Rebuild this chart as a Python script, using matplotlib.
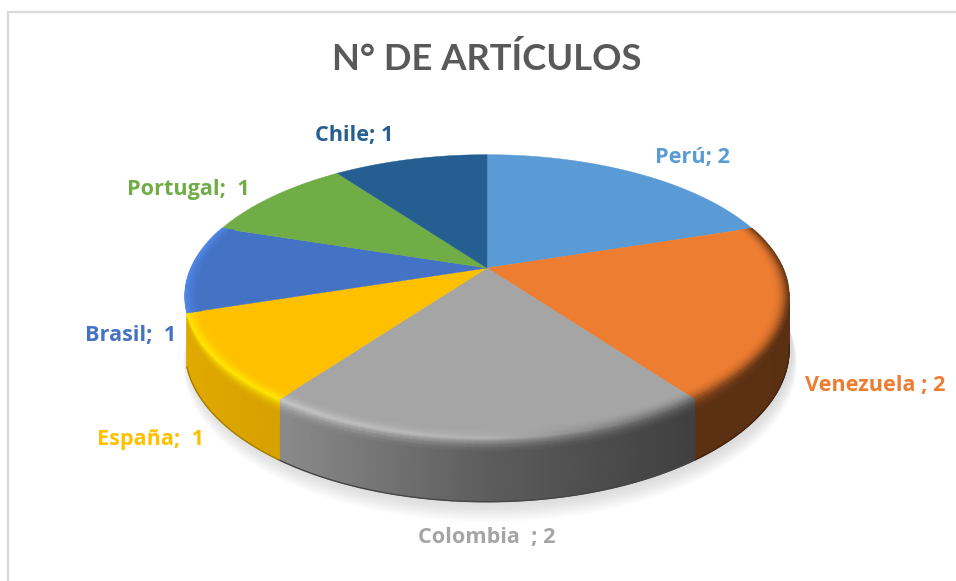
import numpy as np
import matplotlib
matplotlib.use('Agg')
import matplotlib.pyplot as plt

# data
paises = ['Perú', 'Venezuela', 'Colombia', 'España', 'Brasil', 'Portugal', 'Chile']
articulos = [2, 2, 2, 1, 1, 1, 1]
etiquetas = ['Perú; 2', 'Venezuela ; 2', 'Colombia  ; 2', 'España;  1', 'Brasil;  1', 'Portugal;  1', 'Chile; 1']
colores = ['#5b9bd5', '#ed7d31', '#a5a5a5', '#ffc000', '#4472c4', '#70ad47', '#255e91']

# pie geometry in picture pixels
cx, cy = 487, 268
rad_x, rad_y, persp, alto = 296, 136, 0.2, 51

# label positions (left edge, middle)
pos_etiq = [(655, 158), (805, 385), (418, 537), (97, 439), (85, 335), (127, 190), (315, 136)]

# light on the side of the pie, by picture x
luz_x = [187, 282, 490, 690, 790]
luz_lado = [0.88, 0.84, 0.56, 0.39, 0.38]
luz_borde = [1.2, 1.2, 1.08, 0.62, 0.42]


def proy(theta, r=1.0, z=0.0):
    # theta clockwise from the back of the pie, z goes down
    x = r * np.sin(theta)
    y = r * np.cos(theta)
    d = 1 + persp * y
    return cx + rad_x * x / d, cy - rad_y * y / d + alto * z / d


def factor(col, f):
    # col rgb, f array of brightness factors
    c = np.array(matplotlib.colors.to_rgb(col))
    return np.clip(c[None, :] * f[:, None], 0, 1)


fig = plt.figure(figsize=(9.56, 5.81), dpi=100)
ax = fig.add_axes([0, 0, 1, 1])
ax.set_xlim(0, 956)
ax.set_ylim(581, 0)
ax.axis('off')

# chart frame, only top and left show in the screenshot
ax.plot([8, 8, 956], [581, 12, 12], color='#d9d9d9', lw=1.6, zorder=1)

# soft shadow under the pie
t_sombra = np.radians(np.linspace(0, 360, 361))
for i in range(14):
    sx, sy = proy(t_sombra, r=1.0 + i * 0.0012, z=1.0 + 0.02 * i)
    ax.fill(sx + 3, sy, color='#808080', alpha=0.02, lw=0, zorder=2)

angulos = np.cumsum([0] + articulos) / sum(articulos) * 2 * np.pi

# side of the front slices, smooth shaded meshes
z_lado = np.array([0, 0.05, 0.1, 0.16, 0.22, 1.0])
peso_lado = np.array([0.0, 0.35, 0.65, 0.88, 1.0, 1.0])
for k in range(len(paises)):
    a0 = max(angulos[k], np.radians(100))
    a1 = min(angulos[k + 1], np.radians(252))
    if a1 <= a0:
        continue
    t = np.linspace(a0, a1, 60)
    x0, _ = proy(t)
    lado = factor(colores[k], np.interp(x0, luz_x, luz_lado))
    borde = factor(colores[k], np.interp(x0, luz_x, luz_borde))
    X = np.array([proy(t, z=z)[0] for z in z_lado])
    Y = np.array([proy(t, z=z)[1] for z in z_lado])
    C = np.array([borde * (1 - w) + lado * w for w in peso_lado])
    ax.pcolormesh(X, Y, C, shading='gouraud', zorder=3)
    # darker line along the bottom, hides the rough mesh edge
    bx, by = proy(t, z=1.0)
    ax.plot(bx, by, color=tuple(np.clip(lado[len(t) // 2] * 0.75, 0, 1)), lw=1.0, zorder=3.5)

# top face
for k in range(len(paises)):
    t = np.linspace(angulos[k], angulos[k + 1], 120)
    xs, ys = proy(t)
    ax.fill(np.r_[cx, xs], np.r_[cy, ys], color=colores[k], lw=0.3, zorder=4)

# bevel along the rim of the front slices
r_bisel = np.linspace(0.95, 1.0, 7)
for k in range(len(paises)):
    a0 = max(angulos[k], np.radians(72))
    a1 = min(angulos[k + 1], np.radians(288))
    if a1 <= a0:
        continue
    t = np.linspace(a0, a1, 60)
    x0, _ = proy(t)
    base = factor(colores[k], np.ones(len(t)))
    borde = factor(colores[k], np.interp(x0, luz_x, luz_borde))
    X = np.array([proy(t, r=r)[0] for r in r_bisel])
    Y = np.array([proy(t, r=r)[1] for r in r_bisel])
    pesos = ((r_bisel - 0.95) / 0.05) ** 2
    C = np.array([base * (1 - w) + borde * w for w in pesos])
    ax.pcolormesh(X, Y, C, shading='gouraud', zorder=5)

# texts
ax.text(487, 59, 'N° DE ARTÍCULOS', family='Lato', weight='bold', fontsize=26.2,
        color='#595959', ha='center', va='center', zorder=6)
for txt, col, (px, py) in zip(etiquetas, colores, pos_etiq):
    ax.text(px, py, txt, family='Open Sans', weight='bold', fontsize=15.6, color=col,
            ha='left', va='center', zorder=6)

fig.savefig('out.png', dpi=100, facecolor='white')
